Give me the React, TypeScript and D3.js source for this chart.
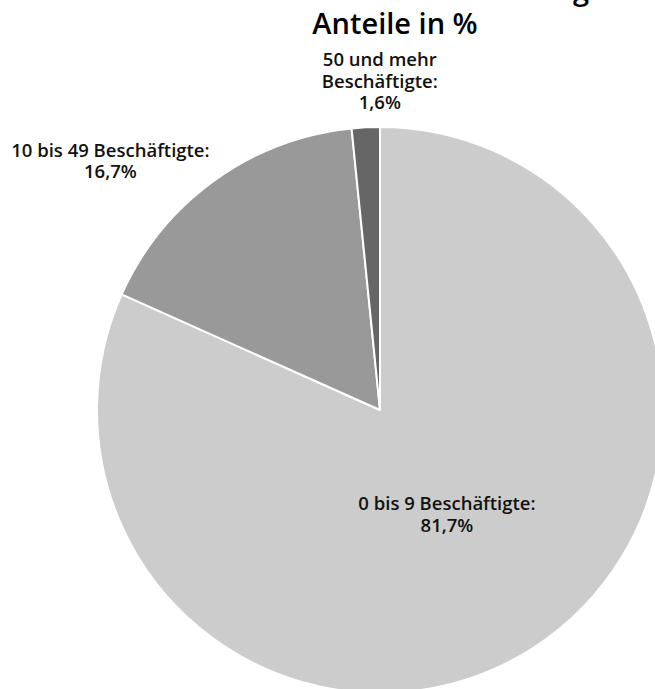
import React from "react";
import * as d3 from "d3";

const labelLines = [
  ["0 bis 9 Beschäftigte:"],
  ["10 bis 49 Beschäftigte:"],
  ["50 und mehr", "Beschäftigte:"],
];
const values = [81.7, 16.7, 1.6];
const valueLabels = ["81,7%", "16,7%", "1,6%"];
const colors = ["#cccccc", "#999999", "#666666"];
const titleLines = ["Struktur der Betriebe nach Beschäftigtenzahl", "Anteile in %"];

const W = 655;
const H = 689;
const cx = 380;
const cy = 410;
const R = 283;

// label anchor: point on slice bisector at radius R*rf, shifted by dx/dy (first baseline)
const labelLayout = [
  { rf: 0.435, dx: 0, dy: -3 },
  { rf: 1.0, dx: -104, dy: -24 },
  { rf: 1.0, dx: 14, dy: -61 },
];

export default function App() {
  const pie = d3.pie<number>().sort(null).value((d) => d);
  const arcs = pie(values);
  const arc = d3.arc<d3.PieArcDatum<number>>().innerRadius(0).outerRadius(R);
  const font = "'Open Sans', sans-serif";
  const lh = 21.5;

  return (
    <svg
      width={W}
      height={H}
      style={{ position: "absolute", left: 0, top: 0, background: "#fff" }}
    >
      <text x={377} y={0} textAnchor="middle" fontFamily={font} fontWeight={600} fontSize={29} fill="#000">
        {titleLines[0]}
      </text>
      <text x={395} y={34} textAnchor="middle" fontFamily={font} fontWeight={600} fontSize={29} fill="#000">
        {titleLines[1]}
      </text>
      <g transform={`translate(${cx},${cy})`}>
        {arcs.map((a, i) => (
          <path key={i} d={arc(a) || ""} fill={colors[i]} stroke="#fff" strokeWidth={2} strokeLinejoin="round" />
        ))}
        {arcs.map((a, i) => {
          const mid = (a.startAngle + a.endAngle) / 2;
          const L = labelLayout[i];
          const rr = R * L.rf;
          const x = Math.sin(mid) * rr + L.dx;
          const y0 = -Math.cos(mid) * rr + L.dy;
          const lines = [...labelLines[i], valueLabels[i]];
          return (
            <text key={"l" + i} x={x} y={y0} textAnchor="middle" fontFamily={font} fontWeight={600} fontSize={18.5} fill="#111">
              {lines.map((t, j) => (
                <tspan key={j} x={x} y={y0 + j * lh}>
                  {t}
                </tspan>
              ))}
            </text>
          );
        })}
      </g>
    </svg>
  );
}
